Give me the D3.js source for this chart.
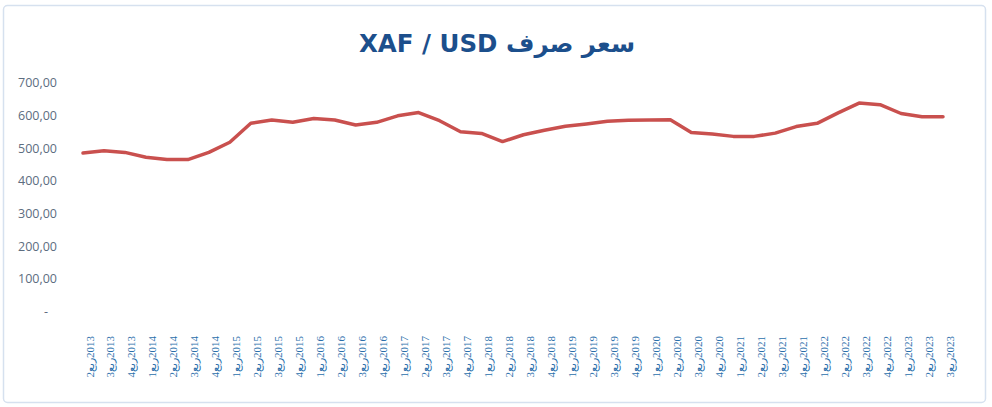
<!DOCTYPE html>
<html>
<head>
<meta charset="utf-8">
<script src="https://cdn.jsdelivr.net/npm/d3@7"></script>
<style>
  html, body { margin: 0; padding: 0; background: #ffffff; }
  #chart-container { width: 992px; height: 407px; }
</style>
</head>
<body>
<div id="chart-container"></div>
<script>
// quarters shown on the axis (quarter number + "ربع" + year)
const years = ["2013","2013","2013",
  "2014","2014","2014","2014",
  "2015","2015","2015","2015",
  "2016","2016","2016","2016",
  "2017","2017","2017","2017",
  "2018","2018","2018","2018",
  "2019","2019","2019","2019",
  "2020","2020","2020","2020",
  "2021","2021","2021","2021",
  "2022","2022","2022","2022",
  "2023","2023","2023"];
const quarters = [2,3,4, 1,2,3,4, 1,2,3,4, 1,2,3,4, 1,2,3,4, 1,2,3,4,
  1,2,3,4, 1,2,3,4, 1,2,3,4, 1,2,3,4, 1,2,3];

// XAF per USD
const rates = [485, 492, 487, 472, 465, 465, 487, 518, 576, 586,
  579, 591, 586, 571, 579, 599, 609, 584, 550, 545,
  520, 541, 555, 567, 574, 582, 585, 586, 587, 548,
  543, 536, 536, 546, 566, 576, 608, 638, 633, 606,
  596, 596];

const yTicks = [0, 100, 200, 300, 400, 500, 600, 700];
const titleText = "XAF / USD سعر صرف";

const w = 992, h = 407;
const categories = quarters.map((q, i) => q + "ربع\u200E" + years[i]);
const data = rates.map((v, i) => ({ label: categories[i], value: v }));

const svg = d3.select("#chart-container").append("svg")
  .attr("width", w)
  .attr("height", h);

// chart frame
svg.append("rect")
  .attr("x", 3.5).attr("y", 5.5)
  .attr("width", 982).attr("height", 397)
  .attr("rx", 4)
  .attr("fill", "#ffffff")
  .attr("stroke", "#d6e1ef")
  .attr("stroke-width", 1.5);

// title
svg.append("text")
  .attr("x", 497)
  .attr("y", 52)
  .attr("text-anchor", "middle")
  .style("font-family", "'DejaVu Sans', sans-serif")
  .style("font-weight", "bold")
  .style("font-size", "24.5px")
  .attr("fill", "#1c4f8c")
  .text(titleText);

// scales
const x = d3.scalePoint()
  .domain(categories)
  .range([83, 943]);
const y = d3.scaleLinear()
  .domain([0, 700])
  .range([311.5, 82.8]);

// y axis labels only (no line, no ticks)
const fmt = v => v === 0 ? "-" : d3.format(".2f")(v).replace(".", ",");
const yAxis = d3.axisLeft(y)
  .tickValues(yTicks)
  .tickSize(0)
  .tickPadding(0)
  .tickFormat(fmt);
const gy = svg.append("g")
  .attr("transform", "translate(57,0)")
  .call(yAxis);
gy.select(".domain").remove();
gy.selectAll("text")
  .style("font-family", "'Open Sans', sans-serif")
  .style("font-size", "12.5px")
  .attr("fill", "#5d6d80")
  .attr("dx", d => d === 0 ? "-9" : "0");

// x axis labels, rotated
const xAxis = d3.axisBottom(x).tickSize(0).tickPadding(0);
const gx = svg.append("g")
  .attr("transform", "translate(0,336)")
  .call(xAxis);
gx.select(".domain").remove();
gx.selectAll("text")
  .style("font-family", "'Liberation Serif', serif")
  .style("font-size", "11px")
  .attr("fill", "#2b6fab")
  .attr("text-anchor", "end")
  .attr("dy", null)
  .attr("y", 0)
  .attr("transform", "translate(10,0) rotate(-90)");

// the line
const valueLine = d3.line()
  .x(d => x(d.label))
  .y(d => y(d.value));

svg.append("path")
  .datum(data)
  .attr("fill", "none")
  .attr("stroke", "#c9504e")
  .attr("stroke-width", 3.5)
  .attr("stroke-linejoin", "round")
  .attr("stroke-linecap", "round")
  .attr("d", valueLine);
</script>
</body>
</html>
